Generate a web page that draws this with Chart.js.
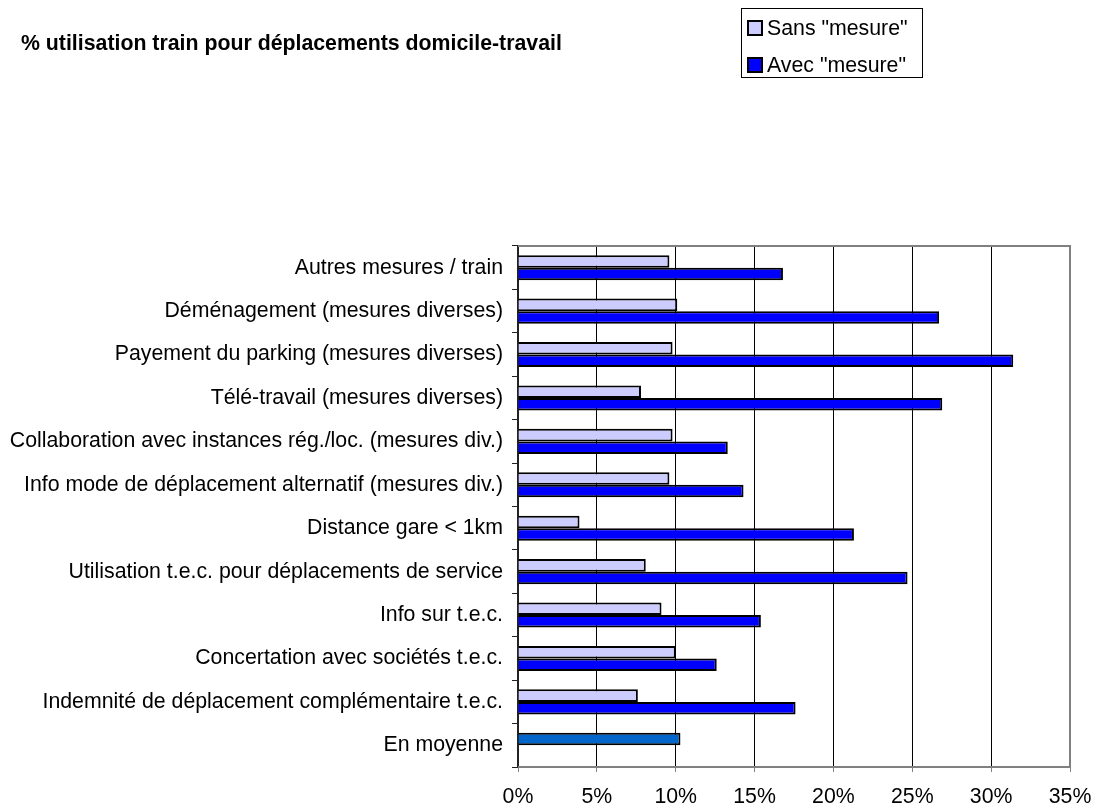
<!DOCTYPE html>
<html>
<head>
<meta charset="utf-8">
<script src="https://cdn.jsdelivr.net/npm/chart.js@4"></script>
<style>
  body { margin: 0; background: #fff; font-family: "Liberation Sans", Arial, sans-serif; }
  #wrap { position: relative; width: 1095px; height: 807px; overflow: hidden; }
  #title { position: absolute; left: 21px; top: 31px; font-size: 21.3px; font-weight: bold; color: #000; white-space: nowrap; }
  #legend { position: absolute; left: 741px; top: 8px; width: 182px; height: 70px; border: 1px solid #000; box-sizing: border-box; }
  .item { position: absolute; left: 5px; display: flex; align-items: center; height: 26px; font-size: 21.3px; white-space: nowrap; }
  .swatch { width: 12px; height: 12px; border: 2px solid #000; margin-right: 4px; }
</style>
</head>
<body>
<div id="wrap">
  <canvas id="chart" width="1095" height="807"></canvas>
  <div id="title">% utilisation train pour déplacements domicile-travail</div>
  <div id="legend"></div>
</div>
<script>
const categories = [
  "Autres mesures / train",
  "Déménagement (mesures diverses)",
  "Payement du parking (mesures diverses)",
  "Télé-travail (mesures diverses)",
  "Collaboration avec instances rég./loc. (mesures div.)",
  "Info mode de déplacement alternatif (mesures div.)",
  "Distance gare < 1km",
  "Utilisation t.e.c. pour déplacements de service",
  "Info sur t.e.c.",
  "Concertation avec sociétés t.e.c.",
  "Indemnité de déplacement complémentaire t.e.c.",
  "En moyenne"
];
const sansMesure = [9.6, 10.1, 9.8, 7.8, 9.8, 9.6, 3.9, 8.1, 9.1, 10.0, 7.6, 10.3];
const avecMesure = [16.8, 26.7, 31.4, 26.9, 13.3, 14.3, 21.3, 24.7, 15.4, 12.6, 17.6, null];
const seriesNames = ['Sans "mesure"', 'Avec "mesure"'];
const xTicks = [0, 5, 10, 15, 20, 25, 30, 35];

const sansColor = "#ccccff";
const avecColor = "#0000ff";
const moyenneColor = "#0066cc";

Chart.defaults.font.family = '"Liberation Sans", Arial, sans-serif';
Chart.defaults.font.size = 21.3;
Chart.defaults.color = "#000";

// grey frame on the top, right and bottom of the plot area
const plotFrame = {
  id: "plotFrame",
  afterDraw(chart) {
    const a = chart.chartArea, c = chart.ctx;
    c.save();
    c.strokeStyle = "#808080";
    c.lineWidth = 2;
    c.beginPath();
    c.moveTo(a.left, a.top);
    c.lineTo(a.right, a.top);
    c.lineTo(a.right, a.bottom);
    c.lineTo(a.left, a.bottom);
    c.stroke();
    c.restore();
  }
};

const chart = new Chart(document.getElementById("chart"), {
  type: "bar",
  data: {
    labels: categories,
    datasets: [
      {
        label: seriesNames[0],
        data: sansMesure,
        backgroundColor: categories.map(c => c === "En moyenne" ? moyenneColor : sansColor),
        borderColor: "#000",
        borderWidth: 2,
        categoryPercentage: 0.576,
        barPercentage: 1
      },
      {
        label: seriesNames[1],
        data: avecMesure,
        backgroundColor: avecColor,
        borderColor: "#000",
        borderWidth: 2,
        categoryPercentage: 0.576,
        barPercentage: 1
      }
    ]
  },
  options: {
    indexAxis: "y",
    responsive: false,
    animation: false,
    layout: { padding: { top: 246, right: 25, bottom: 0, left: 0 } },
    plugins: { legend: { display: false }, tooltip: { enabled: false } },
    scales: {
      x: {
        min: 0, max: 35,
        afterBuildTicks: s => { s.ticks = xTicks.map(v => ({ value: v })); },
        afterFit: s => { s.height = 40; s.paddingLeft = 0; s.paddingRight = 0; },
        ticks: { callback: v => v + "%", padding: 12, maxRotation: 0 },
        grid: { color: "#000", lineWidth: 1, tickColor: "#808080", tickLength: 5 },
        border: { color: "#808080", width: 2 }
      },
      y: {
        afterFit: s => { s.width = 518; s.paddingTop = 0; s.paddingBottom = 0; },
        ticks: { padding: 9 },
        grid: { offset: true, drawOnChartArea: false, tickColor: "#222", tickLength: 6 },
        border: { color: "#222", width: 2 }
      }
    }
  },
  plugins: [plotFrame]
});

// legend box, one row per dataset
const legend = document.getElementById("legend");
const rowTops = [14, 51];
chart.data.datasets.forEach((ds, i) => {
  const item = document.createElement("div");
  item.className = "item";
  item.style.top = (rowTops[i] - 8) + "px";
  const sw = document.createElement("span");
  sw.className = "swatch";
  sw.style.background = i === 0 ? sansColor : avecColor;
  item.appendChild(sw);
  item.appendChild(document.createTextNode(ds.label));
  legend.appendChild(item);
});
</script>
</body>
</html>
